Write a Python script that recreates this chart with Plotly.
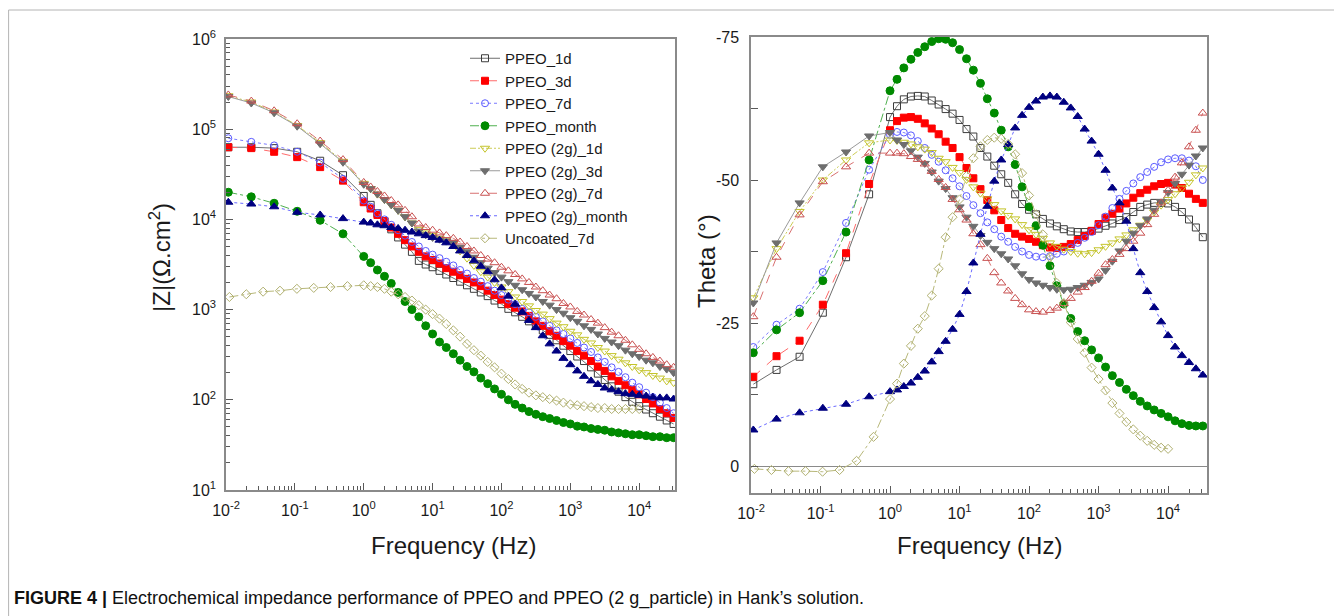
import plotly.graph_objects as go

# ---------------- data ----------------
series_names = ["PPEO_1d", "PPEO_3d", "PPEO_7d", "PPEO_month",
                "PPEO (2g)_1d", "PPEO (2g)_3d", "PPEO (2g)_7d", "PPEO (2g)_month",
                "Uncoated_7d"]

freq_low = [0.0108, 0.0233, 0.05, 0.108, 0.233, 0.5]
freq_low_uncoated = [0.0112, 0.0197, 0.0346, 0.0608, 0.107, 0.188, 0.33, 0.58]
freq_dense = [1.0, 1.26, 1.58, 2.0, 2.51, 3.16, 3.98, 5.01, 6.31, 7.94,
              10.0, 12.6, 15.8, 20.0, 25.1, 31.6, 39.8, 50.1, 63.1, 79.4,
              100, 126, 158, 200, 251, 316, 398, 501, 631, 794,
              1000, 1260, 1580, 2000, 2510, 3160, 3980, 5010, 6310, 7940,
              10000, 12600, 15800, 20000, 25100, 31600]

# |Z| (ohm.cm2)
Z_ppeo_1d = [63100, 63100, 61700, 56200, 44700, 30900,
             18200, 14500, 11700, 9550, 7760, 6310, 5250, 4370, 3470, 3160,
             2950, 2690, 2450, 2240, 2040, 1860, 1700, 1550, 1410, 1260,
             1150, 1020, 933, 832, 741, 661, 589, 525, 457, 398,
             347, 302, 269, 229, 195, 166, 141, 123, 107, 95,
             85, 78, 71, 65, 59, 54]
Z_ppeo_3d = [63100, 61700, 56200, 49000, 38000, 26900,
             15500, 13200, 11200, 9550, 8130, 6920, 5890, 5010, 4370, 3890,
             3550, 3240, 2880, 2630, 2400, 2190, 2000, 1820, 1620, 1450,
             1290, 1150, 1050, 955, 851, 741, 661, 575, 513, 447,
             398, 347, 309, 269, 234, 209, 182, 162, 145, 129,
             115, 102, 91, 79, 71, 63]
Z_ppeo_7d = [79400, 72400, 66100, 56200, 42700, 28200,
             16200, 13800, 11700, 10000, 8710, 7590, 6610, 5620, 5010, 4470,
             4070, 3720, 3390, 3090, 2750, 2510, 2240, 2040, 1820, 1620,
             1450, 1290, 1150, 1020, 933, 832, 741, 661, 589, 537,
             479, 427, 380, 339, 295, 263, 229, 204, 178, 155,
             138, 120, 107, 93, 81, 71]
Z_ppeo_month = [20000, 17800, 15100, 12300, 9770, 6920,
                3890, 3310, 2750, 2340, 1950, 1550, 1230, 1000, 832, 661,
                537, 437, 380, 324, 275, 234, 204, 174, 151, 132,
                115, 100, 89, 81, 74, 69, 65, 62, 59, 56,
                54, 51, 50, 48, 47, 46, 44, 43, 42, 41,
                41, 40, 39, 39, 38, 38]
Z_2g_1d = [235000, 200000, 155000, 110000, 71000, 44000,
           25100, 21900, 19100, 16600, 14500, 12600, 10700, 9120, 7760, 7080,
           6610, 6170, 5890, 5370, 4470, 3720, 3090, 2630, 2290, 2000,
           1780, 1580, 1380, 1230, 1100, 977, 891, 794, 708, 646,
           575, 525, 468, 427, 380, 347, 309, 282, 257, 234,
           214, 200, 186, 174, 162, 155]
Z_2g_3d = [230000, 195000, 152000, 108000, 69000, 43000,
           24500, 21900, 19100, 16600, 14500, 12600, 10700, 9120, 7410, 6760,
           6310, 6030, 5750, 5500, 4900, 4370, 3800, 3310, 2880, 2570,
           2290, 2040, 1860, 1660, 1510, 1380, 1230, 1120, 1000, 912,
           813, 741, 661, 603, 537, 479, 437, 398, 355, 324,
           302, 275, 257, 234, 219, 200]
Z_2g_7d = [240000, 205000, 160000, 115000, 74000, 46000,
           25700, 22900, 20400, 18200, 16200, 14500, 12600, 10700, 8900, 8130,
           7590, 7080, 6610, 6170, 5620, 5010, 4470, 3980, 3630, 3310,
           2950, 2690, 2450, 2190, 2000, 1780, 1620, 1450, 1320, 1170,
           1070, 955, 871, 776, 708, 631, 562, 513, 457, 407,
           363, 324, 295, 269, 245, 229]
Z_2g_month = [15500, 14800, 13800, 12000, 11200, 10200,
              9330, 9120, 8710, 8510, 8130, 7940, 7590, 7240, 6920, 6610,
              6310, 5890, 5500, 5010, 4470, 3980, 3470, 3020, 2630, 2140,
              1740, 1410, 1150, 933, 759, 631, 513, 417, 347, 288,
              245, 209, 182, 162, 148, 135, 129, 123, 117, 115,
              112, 110, 107, 105, 105, 102]
Z_uncoated = [1380, 1480, 1580, 1620, 1700, 1740, 1780, 1820,
              1860, 1820, 1780, 1700, 1580, 1480, 1380, 1260, 1120, 1000,
              891, 794, 692, 589, 501, 417, 355, 309, 263, 229,
              195, 170, 148, 132, 120, 112, 107, 102, 98, 93,
              89, 87, 85, 83, 81, 81, 79, 79, 79, 79,
              79]

# Theta (deg)
T_ppeo_1d = [-14.3, -16.8, -19.1, -26.8, -36.5, -47.5,
             -61.0, -62.9, -64.1, -64.6, -64.7, -64.6, -63.9, -63.2, -62.4, -61.6,
             -60.5, -58.9, -57.6, -55.6, -54.1, -52.5, -51.0, -49.5, -47.5, -45.8,
             -44.8, -44.0, -43.2, -42.4, -41.9, -41.4, -41.0, -40.9, -40.9, -41.1,
             -41.5, -42.0, -42.4, -43.0, -43.5, -44.4, -45.3, -45.7, -46.0, -46.0,
             -45.9, -45.3, -44.4, -43.1, -41.7, -40.0]
T_ppeo_3d = [-15.6, -19.2, -21.9, -28.2, -37.2, -49.3,
             -58.7, -60.3, -60.9, -61.0, -60.7, -59.9, -59.0, -58.0, -56.7, -55.6,
             -54.0, -52.1, -50.3, -48.4, -46.5, -44.7, -43.0, -41.6, -40.6, -40.1,
             -39.7, -39.2, -38.6, -38.2, -38.1, -38.3, -38.8, -39.5, -40.2, -41.1,
             -42.3, -43.4, -44.1, -45.0, -45.9, -46.9, -47.7, -48.3, -48.9, -49.3,
             -49.5, -49.2, -48.6, -47.6, -46.7, -46.0]
T_ppeo_7d = [-20.8, -24.7, -27.5, -33.9, -42.5, -51.8,
             -57.9, -58.4, -58.3, -57.8, -56.8, -55.6, -54.4, -53.2, -51.7, -50.3,
             -48.9, -47.2, -45.6, -44.2, -42.6, -41.4, -40.1, -39.2, -38.3, -37.5,
             -36.9, -36.6, -36.5, -36.7, -37.1, -37.5, -38.2, -39.0, -39.9, -40.9,
             -42.1, -43.6, -45.1, -46.7, -48.1, -49.4, -50.5, -51.4, -52.3, -53.1,
             -53.6, -53.8, -53.8, -53.4, -52.4, -50.0]
T_ppeo_month = [-19.8, -23.8, -26.8, -32.4, -40.9, -53.5,
                -65.6, -67.6, -69.6, -71.1, -72.3, -73.3, -74.2, -74.7, -74.6, -74.0,
                -72.8, -71.2, -69.2, -66.9, -64.2, -61.7, -58.7, -55.8, -52.7, -48.8,
                -45.3, -42.0, -38.6, -35.0, -31.5, -28.3, -25.8, -23.5, -21.9, -20.3,
                -18.9, -17.3, -15.8, -14.6, -13.4, -12.3, -11.3, -10.5, -9.8, -9.2,
                -8.6, -7.9, -7.4, -7.1, -7.0, -7.0]
T_2g_1d = [-29.4, -38.0, -44.5, -50.0, -53.5, -56.5,
           -57.0, -56.9, -56.6, -56.3, -55.8, -55.4, -54.8, -53.8, -53.2, -52.2,
           -51.3, -50.1, -48.8, -47.7, -46.7, -45.7, -44.6, -43.8, -43.2, -42.2,
           -41.3, -40.5, -39.8, -39.0, -38.4, -37.9, -37.5, -37.2, -37.1, -37.3,
           -37.8, -38.4, -39.0, -39.7, -40.4, -41.3, -42.1, -43.0, -44.4, -45.6,
           -46.6, -47.6, -48.6, -49.6, -50.9, -52.1]
T_2g_3d = [-28.5, -39.0, -46.0, -52.3, -54.9, -57.7,
           -58.3, -57.0, -56.2, -55.1, -54.0, -52.9, -51.4, -49.8, -48.5, -46.9,
           -45.3, -43.5, -41.9, -40.3, -39.1, -38.0, -37.1, -36.2, -35.0, -33.6,
           -32.6, -32.0, -31.6, -31.2, -30.9, -30.8, -30.9, -31.2, -31.6, -32.1,
           -32.7, -34.2, -35.8, -37.6, -39.3, -40.7, -42.0, -43.2, -44.7, -46.2,
           -47.8, -49.4, -51.0, -52.6, -54.2, -55.6]
T_2g_7d = [-26.1, -36.5, -43.9, -49.7, -52.3, -54.7,
           -54.7, -54.7, -54.6, -54.1, -53.6, -52.8, -51.5, -50.1, -48.7, -46.6,
           -44.8, -43.0, -40.6, -38.7, -36.3, -33.8, -32.0, -30.6, -29.3, -28.2,
           -27.3, -27.0, -26.9, -27.2, -27.6, -28.4, -29.3, -30.4, -31.2, -32.3,
           -33.7, -35.2, -36.1, -37.0, -38.0, -39.3, -40.7, -42.2, -44.0, -46.0,
           -48.2, -50.5, -53.0, -55.8, -58.7, -61.7]
T_2g_month = [-6.3, -8.2, -9.3, -10.1, -10.8, -12.1,
              -13.0, -13.3, -13.9, -14.5, -15.5, -16.6, -18.2, -20.0, -21.8, -23.9,
              -26.5, -30.5, -35.5, -40.5, -45.4, -49.8, -53.5, -56.2, -59.1, -61.3,
              -62.7, -63.8, -64.5, -64.7, -64.5, -63.6, -62.6, -61.1, -58.9, -56.8,
              -54.5, -51.7, -48.6, -46.0, -42.8, -38.0, -33.8, -30.5, -27.7, -25.2,
              -22.8, -20.8, -19.3, -18.1, -17.0, -15.9]
T_uncoated = [0.5, 0.7, 0.9, 0.9, 1.0, 0.7, -0.9, -5.1,
              -11.7, -14.4, -17.9, -21.0, -24.0, -26.2, -29.8, -34.5, -40.0, -43.5,
              -46.6, -50.7, -53.8, -55.9, -57.0, -57.4, -57.2, -56.3, -54.5, -51.2,
              -47.3, -44.0, -40.5, -36.5, -32.0, -28.5, -25.1, -22.2, -19.8, -17.2,
              -15.2, -13.2, -11.0, -9.2, -7.7, -6.4, -5.3, -4.4, -3.7, -3.2,
              -3.0]

freq_tick_vals = [0.01, 0.1, 1, 10, 100, 1000, 10000]
freq_tick_text = ["10<sup>-2</sup>", "10<sup>-1</sup>", "10<sup>0</sup>", "10<sup>1</sup>",
                  "10<sup>2</sup>", "10<sup>3</sup>", "10<sup>4</sup>"]
z_tick_vals = [10, 100, 1000, 10000, 100000, 1000000]
z_tick_text = ["10<sup>1</sup>", "10<sup>2</sup>", "10<sup>3</sup>", "10<sup>4</sup>",
               "10<sup>5</sup>", "10<sup>6</sup>"]
theta_tick_vals = [-75, -50, -25, 0]
theta_tick_text = ["-75", "-50", "-25", "0"]

# ---------------- styles ----------------
F_std = freq_low + freq_dense
F_unc = freq_low_uncoated + freq_dense[:41]
freqs = [F_std] * 8 + [F_unc]
z_data = [Z_ppeo_1d, Z_ppeo_3d, Z_ppeo_7d, Z_ppeo_month, Z_2g_1d, Z_2g_3d, Z_2g_7d, Z_2g_month, Z_uncoated]
t_data = [T_ppeo_1d, T_ppeo_3d, T_ppeo_7d, T_ppeo_month, T_2g_1d, T_2g_3d, T_2g_7d, T_2g_month, T_uncoated]

styles = [
    dict(lc="#6e6e6e", mc="#3c3c3c", sym="square-open", dash="solid", size=7),
    dict(lc="#ff6a6a", mc="#ff0000", sym="square", dash="dash", size=7),
    dict(lc="#7a7aff", mc="#5a5aff", sym="circle-open", dash="dot", size=7),
    dict(lc="#4fb04f", mc="#008a00", sym="circle", dash="dashdot", size=8),
    dict(lc="#cccc55", mc="#c4c42a", sym="triangle-down-open", dash="6px,2px,2px,2px,2px,2px", size=8),
    dict(lc="#9a9a9a", mc="#6e6e6e", sym="triangle-down", dash="solid", size=8),
    dict(lc="#d87070", mc="#c85050", sym="triangle-up-open", dash="dash", size=8),
    dict(lc="#6a6aff", mc="#000080", sym="triangle-up", dash="dot", size=8),
    dict(lc="#b8b87a", mc="#b0b070", sym="diamond-open", dash="dashdot", size=7),
]

FONT = "Liberation Sans, Arial, Helvetica, sans-serif"
AX_COLOR = "#8a8a8a"
TICK_COLOR = "#5a5a5a"
# the page body adds an 8px margin: the figure is sized so that page == window
OFF = 8
W, H = 1342 - OFF, 616 - OFF


def px(x):   # page x pixel -> paper fraction
    return (x - OFF) / W


def py(y):   # page y pixel -> paper fraction
    return 1 - (y - OFF) / H


fig = go.Figure()
for name, f, z, t, s in zip(series_names, freqs, z_data, t_data, styles):
    mk = dict(symbol=s["sym"], size=s["size"], color=s["mc"], line=dict(color=s["mc"], width=1))
    ln = dict(color=s["lc"], width=1, dash=s["dash"])
    fig.add_trace(go.Scatter(x=f, y=z, mode="lines+markers", name=name, legendgroup=name,
                             line=ln, marker=mk, xaxis="x", yaxis="y"))
    fig.add_trace(go.Scatter(x=f, y=t, mode="lines+markers", name=name, legendgroup=name,
                             line=ln, marker=mk, xaxis="x2", yaxis="y2", showlegend=False))

minor_log = [k * 10.0 ** e for e in range(-2, 6) for k in range(2, 10)]

common_axis = dict(showline=True, mirror=True, linecolor=AX_COLOR, linewidth=1.5,
                   ticks="inside", ticklen=7, tickwidth=1, tickcolor=TICK_COLOR,
                   showgrid=False, automargin=False,
                   tickfont=dict(family=FONT, size=16, color="#1a1a1a"))
minor_log_cfg = dict(tickmode="array", tickvals=minor_log, ticks="inside", ticklen=4,
                     tickcolor=TICK_COLOR, tickwidth=1, showgrid=False)

fig.update_layout(
    template="none",
    width=W, height=H, autosize=False,
    paper_bgcolor="white", plot_bgcolor="white",
    margin=dict(l=0, r=0, t=0, b=0, pad=0, autoexpand=False),
    font=dict(family=FONT, color="#1a1a1a"),
    hovermode="closest",
    xaxis=dict(type="log", range=[-2, 4.52], domain=[px(226), px(675)], anchor="y",
               tickmode="array", tickvals=freq_tick_vals, ticktext=freq_tick_text,
               ticklabelstandoff=5, zeroline=False, minor=minor_log_cfg, **common_axis),
    yaxis=dict(type="log", range=[1, 6], domain=[py(490), py(39)], anchor="x",
               tickmode="array", tickvals=z_tick_vals, ticktext=z_tick_text,
               ticklabelstandoff=5, zeroline=False, minor=minor_log_cfg, **common_axis),
    xaxis2=dict(type="log", range=[-2, 4.56], domain=[px(751), px(1207)], anchor="y2",
                tickmode="array", tickvals=freq_tick_vals, ticktext=freq_tick_text,
                ticklabelstandoff=5, zeroline=False, minor=minor_log_cfg, **common_axis),
    yaxis2=dict(range=[4.72, -75], domain=[py(493), py(37)], anchor="x2",
                tickmode="array", tickvals=theta_tick_vals, ticktext=theta_tick_text,
                ticklabelstandoff=7,
                minor=dict(tickmode="array", tickvals=[-62.5, -37.5, -12.5], ticks="inside",
                           ticklen=7, tickcolor=TICK_COLOR, tickwidth=1, showgrid=False),
                zeroline=True, zerolinecolor="#8a8a8a", zerolinewidth=1.2, **common_axis),
    legend=dict(x=px(465), y=py(42), xanchor="left", yanchor="top",
                bgcolor="rgba(0,0,0,0)", borderwidth=0, tracegroupgap=0,
                font=dict(family=FONT, size=15, color="#1a1a1a")),
    showlegend=True,
)

annots = [
    dict(text="|Z|(Ω.cm<sup>2</sup>)", x=px(160), y=py(258), textangle=-90),
    dict(text="Theta (°)", x=px(706), y=py(261), textangle=-90),
    dict(text="Frequency (Hz)", x=px(453), y=py(545), textangle=0),
    dict(text="Frequency (Hz)", x=px(979), y=py(545), textangle=0),
]
for a in annots:
    fig.add_annotation(xref="paper", yref="paper", showarrow=False,
                       xanchor="center", yanchor="middle",
                       font=dict(family=FONT, size=24, color="#1a1a1a"),
                       text=a["text"], x=a["x"], y=a["y"], textangle=a["textangle"])

fig.add_annotation(xref="paper", yref="paper", showarrow=False, xanchor="left", yanchor="middle",
                   x=px(12), y=py(598),
                   text="<b>FIGURE 4 |</b> Electrochemical impedance performance of PPEO and PPEO (2 g_particle) in Hank’s solution.",
                   font=dict(family=FONT, size=18, color="#111111"))

fig.add_shape(type="rect", xref="paper", yref="paper",
              x0=0.6 / W, x1=1.02, y0=-0.05, y1=py(10),
              line=dict(color="#b4b4b4", width=1), fillcolor="rgba(0,0,0,0)", layer="below")

fig.write_html("out.html")
